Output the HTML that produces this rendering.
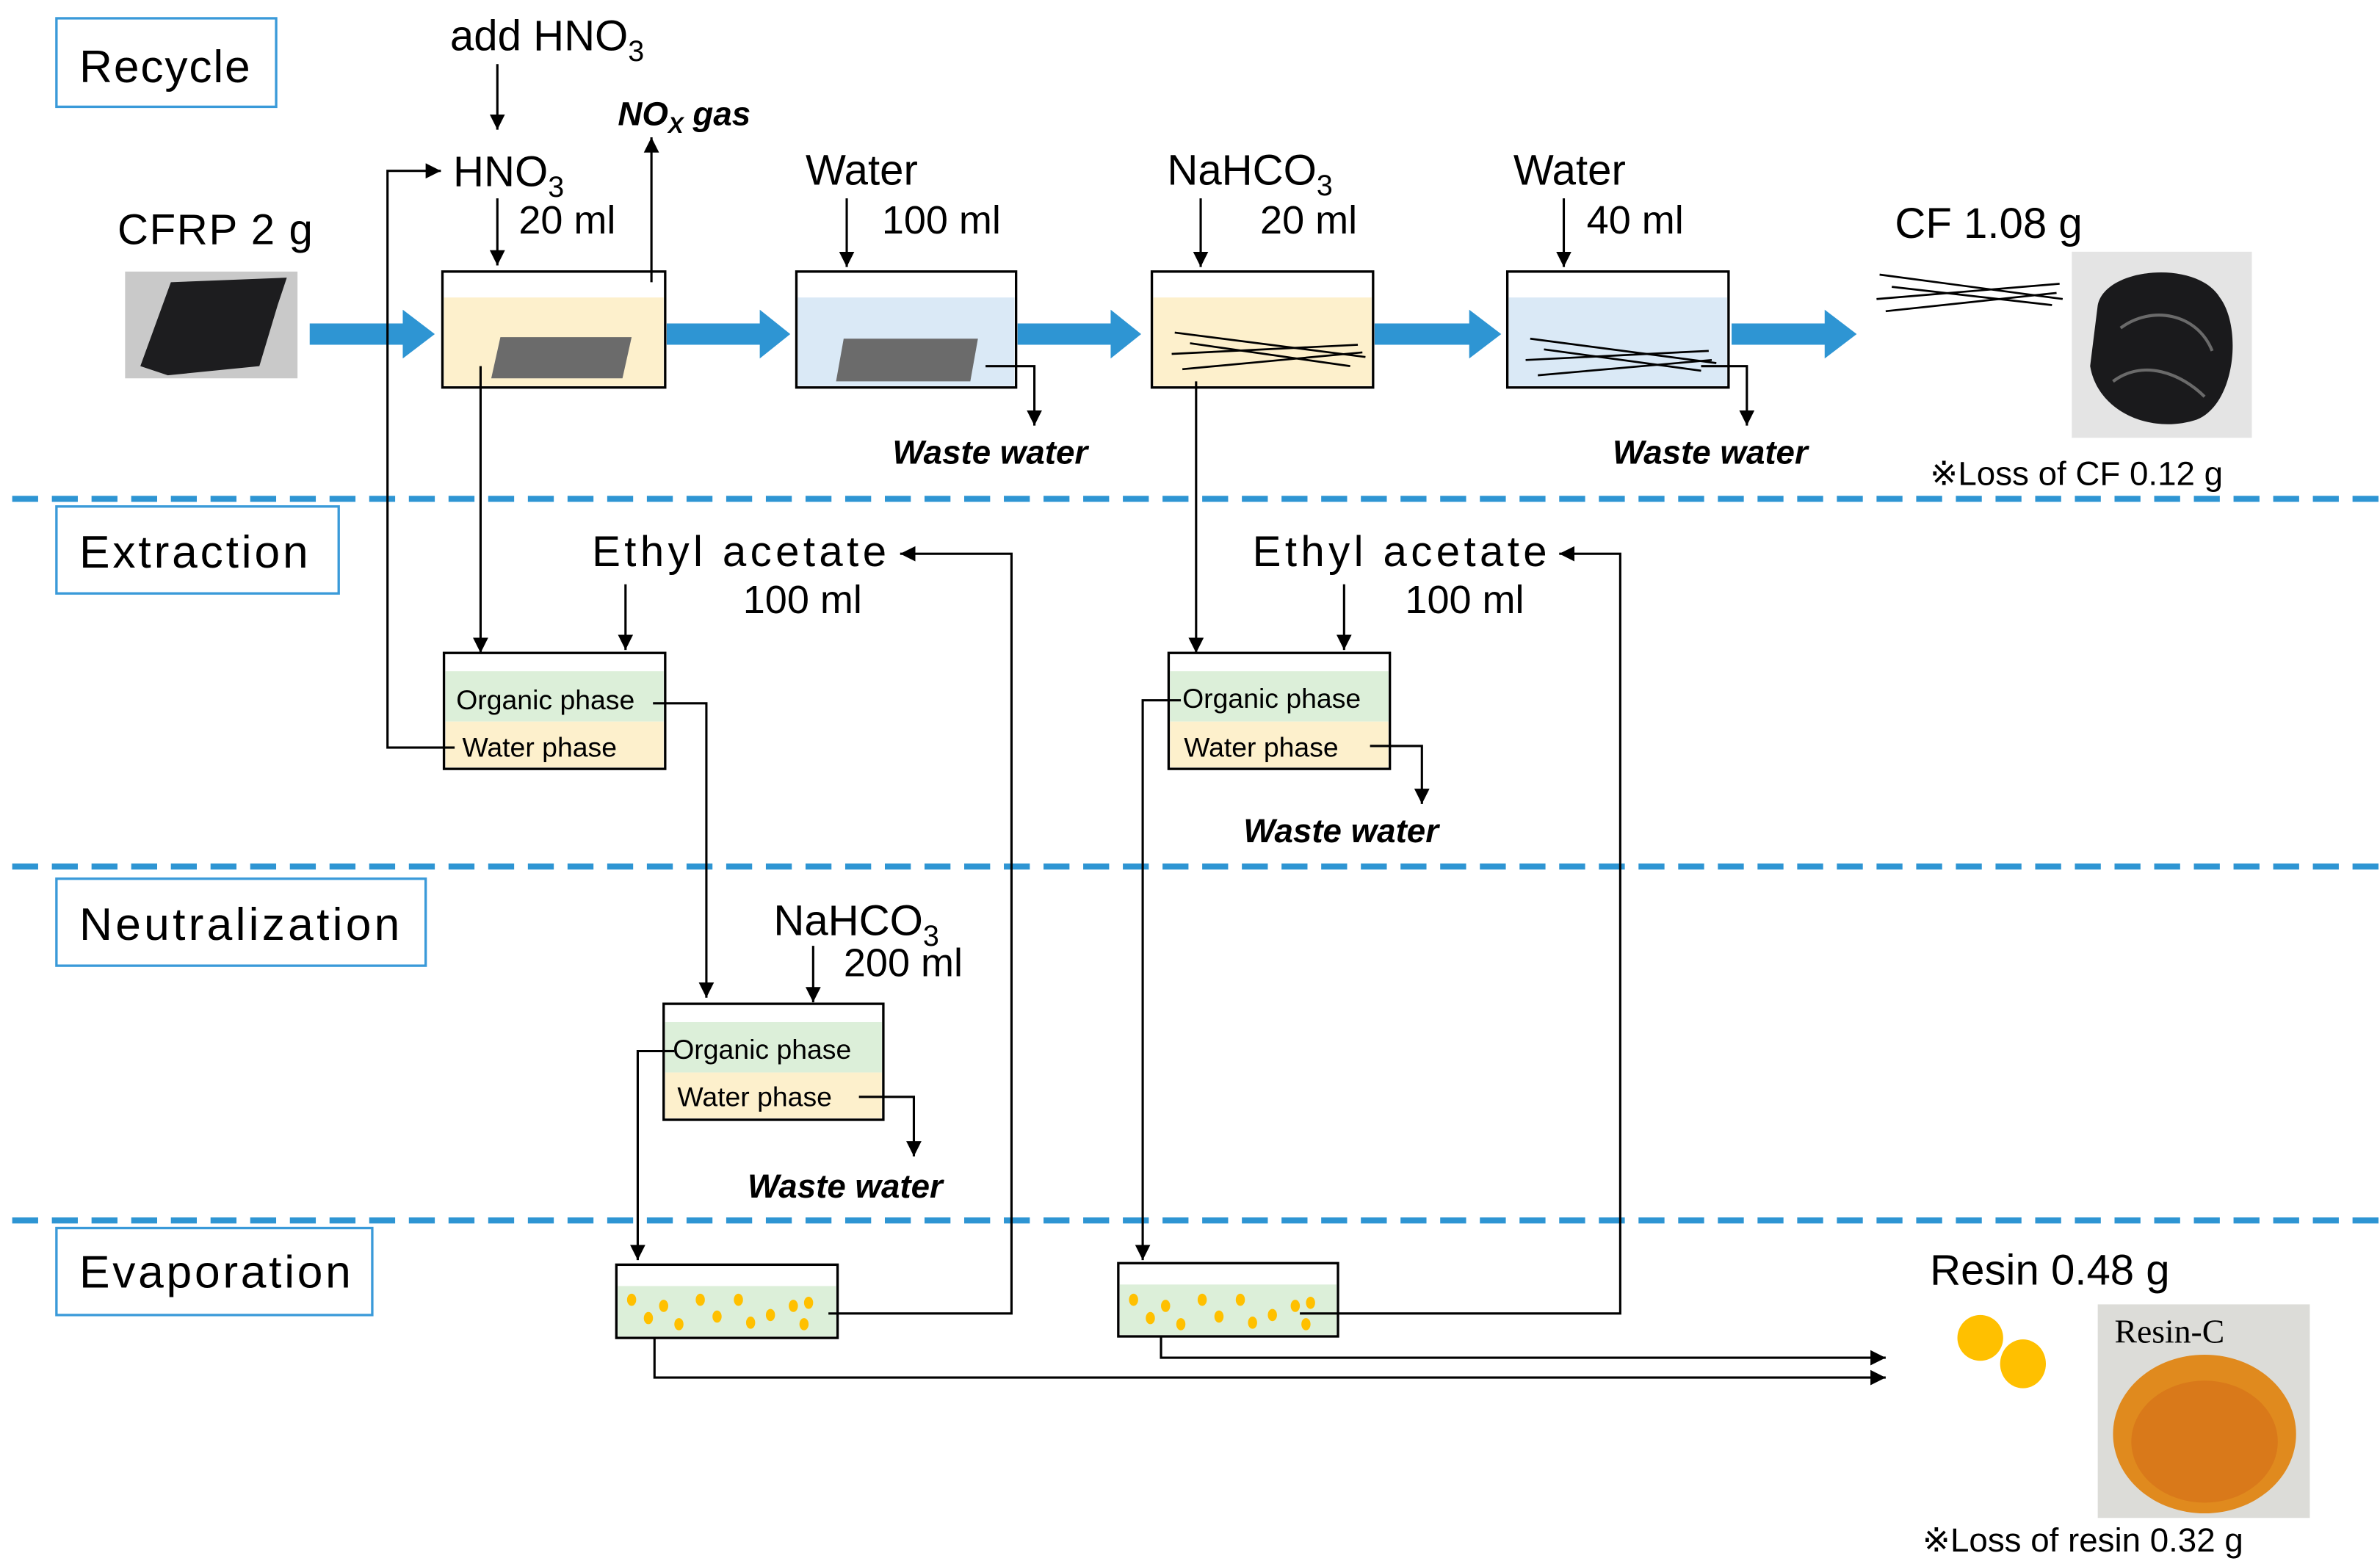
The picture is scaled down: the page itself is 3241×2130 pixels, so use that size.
<!DOCTYPE html>
<html><head><meta charset="utf-8"><style>html,body{margin:0;padding:0;background:#fff}svg{display:block}</style></head><body>
<svg xmlns="http://www.w3.org/2000/svg" width="3241" height="2130" viewBox="0 0 1560 1025.2" preserveAspectRatio="none" font-family="Liberation Sans, sans-serif">
<defs>
<marker id="a" markerUnits="userSpaceOnUse" markerWidth="12" markerHeight="12" refX="10" refY="5" orient="auto"><path d="M0,0 L10,5 L0,10 z" fill="#000"/></marker>
</defs>
<rect width="1560" height="1026" fill="#fff"/>
<g stroke="#2e95d3" stroke-width="4" stroke-dasharray="17,9">
<line x1="8" y1="327" x2="1560" y2="327"/><line x1="8" y1="568" x2="1560" y2="568"/><line x1="8" y1="800" x2="1560" y2="800"/>
</g>
<g fill="#fff" stroke="#3a9ad9" stroke-width="1.6">
<rect x="37" y="12" width="144" height="58"/><rect x="37" y="332" width="185" height="57"/><rect x="37" y="576" width="242" height="57"/><rect x="37" y="805" width="207" height="57"/>
</g>
<g font-size="30" fill="#000">
<text x="52" y="54" textLength="112">Recycle</text>
<text x="52" y="372" textLength="150">Extraction</text>
<text x="52" y="616" textLength="210">Neutralization</text>
<text x="52" y="844" textLength="178">Evaporation</text>
</g>
<g fill="#2e95d3">
<path d="M203,212 H264 V203 L285,219 L264,235 V226 H203 z"/>
<path d="M437,212 H498 V203 L518,219 L498,235 V226 H437 z"/>
<path d="M667,212 H728 V203 L748,219 L728,235 V226 H667 z"/>
<path d="M901,212 H963 V203 L984,219 L963,235 V226 H901 z"/>
<path d="M1135,212 H1196 V203 L1217,219 L1196,235 V226 H1135 z"/>
</g>
<text x="77" y="160" font-size="28" textLength="128">CFRP 2 g</text>
<rect x="82" y="178" width="113" height="70" fill="#c9c9c9"/>
<path d="M92,240 L112,185 L188,182 L182,200 L170,240 L110,246 z" fill="#1d1d1f"/>
<rect x="290" y="178" width="146" height="76" fill="#fff" stroke="#000" stroke-width="1.6"/>
<rect x="291" y="195" width="144" height="58" fill="#fdf0cc"/>
<path d="M328,221 L414,221 L408,248 L322,248 z" fill="#6b6b6b"/>
<rect x="522" y="178" width="144" height="76" fill="#fff" stroke="#000" stroke-width="1.6"/>
<rect x="523" y="195" width="142" height="58" fill="#dae9f6"/>
<path d="M553,222 L641,222 L636,250 L548,250 z" fill="#6b6b6b"/>
<rect x="755" y="178" width="145" height="76" fill="#fff" stroke="#000" stroke-width="1.6"/>
<rect x="756" y="195" width="143" height="58" fill="#fdf0cc"/>
<g stroke="#000" stroke-width="1.3"><line x1="770" y1="218" x2="895" y2="234"/><line x1="768" y1="232" x2="890" y2="226"/><line x1="775" y1="242" x2="893" y2="231"/><line x1="780" y1="225" x2="885" y2="240"/></g>
<rect x="988" y="178" width="145" height="76" fill="#fff" stroke="#000" stroke-width="1.6"/>
<rect x="989" y="195" width="143" height="58" fill="#dae9f6"/>
<g stroke="#000" stroke-width="1.3"><line x1="1003" y1="222" x2="1125" y2="238"/><line x1="1000" y1="236" x2="1120" y2="230"/><line x1="1008" y1="246" x2="1122" y2="236"/><line x1="1012" y1="229" x2="1115" y2="243"/></g>
<g font-size="28">
<text x="295" y="33">add HNO<tspan font-size="19" dy="7">3</tspan></text>
<text x="297" y="122">HNO<tspan font-size="19" dy="7">3</tspan></text>
<text x="340" y="153" font-size="26">20 ml</text>
<text x="528" y="121">Water</text>
<text x="578" y="153" font-size="26">100 ml</text>
<text x="765" y="121">NaHCO<tspan font-size="19" dy="7">3</tspan></text>
<text x="826" y="153" font-size="26">20 ml</text>
<text x="992" y="121">Water</text>
<text x="1040" y="153" font-size="26">40 ml</text>
<text x="1242" y="156">CF 1.08 g</text>
<text x="388" y="371" textLength="193">Ethyl acetate</text>
<text x="487" y="402" font-size="26">100 ml</text>
<text x="821" y="371" textLength="193">Ethyl acetate</text>
<text x="921" y="402" font-size="26">100 ml</text>
<text x="507" y="613">NaHCO<tspan font-size="19" dy="7">3</tspan></text>
<text x="553" y="640" font-size="26">200 ml</text>
</g>
<text x="405" y="82" font-size="22" font-weight="bold" font-style="italic">NO<tspan font-size="15" dy="5">X</tspan><tspan dy="-5"> gas</tspan></text>
<g font-size="22" font-weight="bold" font-style="italic">
<text x="585" y="304">Waste water</text>
<text x="1057" y="304">Waste water</text>
<text x="815" y="552">Waste water</text>
<text x="490" y="785">Waste water</text>
</g>
<g stroke="#000" stroke-width="1.5" fill="none">
<line x1="326" y1="42" x2="326" y2="85" marker-end="url(#a)"/>
<line x1="326" y1="130" x2="326" y2="174" marker-end="url(#a)"/>
<line x1="427" y1="185" x2="427" y2="90" marker-end="url(#a)"/>
<line x1="555" y1="130" x2="555" y2="175" marker-end="url(#a)"/>
<line x1="787" y1="130" x2="787" y2="175" marker-end="url(#a)"/>
<line x1="1025" y1="130" x2="1025" y2="175" marker-end="url(#a)"/>
<polyline points="290,490 254,490 254,112 289,112" marker-end="url(#a)"/>
<polyline points="646,240 678,240 678,279" marker-end="url(#a)"/>
<polyline points="1115,240 1145,240 1145,279" marker-end="url(#a)"/>
<line x1="315" y1="240" x2="315" y2="428" marker-end="url(#a)"/>
<line x1="410" y1="383" x2="410" y2="426" marker-end="url(#a)"/>
<polyline points="549,861 663,861 663,363 590,363" marker-end="url(#a)"/>
<polyline points="430,461 463,461 463,654" marker-end="url(#a)"/>
<line x1="784" y1="250" x2="784" y2="428" marker-end="url(#a)"/>
<line x1="881" y1="383" x2="881" y2="426" marker-end="url(#a)"/>
<polyline points="852,861 1062,861 1062,363 1022,363" marker-end="url(#a)"/>
<polyline points="902,489 932,489 932,527" marker-end="url(#a)"/>
<polyline points="768,459 749,459 749,826" marker-end="url(#a)"/>
<line x1="533" y1="620" x2="533" y2="657" marker-end="url(#a)"/>
<polyline points="567,719 599,719 599,758" marker-end="url(#a)"/>
<polyline points="437,689 418,689 418,826" marker-end="url(#a)"/>
<polyline points="429,868 429,903 1236,903" marker-end="url(#a)"/>
<polyline points="761,866 761,890 1236,890" marker-end="url(#a)"/>
</g>
<rect x="291" y="428" width="145" height="76" fill="#fff" stroke="#000" stroke-width="1.6"/>
<rect x="292" y="440" width="143" height="33" fill="#dcefd9"/><rect x="292" y="473" width="143" height="30" fill="#fdf0cc"/>
<rect x="766" y="428" width="145" height="76" fill="#fff" stroke="#000" stroke-width="1.6"/>
<rect x="767" y="440" width="143" height="33" fill="#dcefd9"/><rect x="767" y="473" width="143" height="30" fill="#fdf0cc"/>
<rect x="435" y="658" width="144" height="76" fill="#fff" stroke="#000" stroke-width="1.6"/>
<rect x="436" y="670" width="142" height="33" fill="#dcefd9"/><rect x="436" y="703" width="142" height="30" fill="#fdf0cc"/>
<g font-size="18">
<text x="299" y="465">Organic phase</text><text x="303" y="496">Water phase</text>
<text x="775" y="464">Organic phase</text><text x="776" y="496">Water phase</text>
<text x="441" y="694">Organic phase</text><text x="444" y="725">Water phase</text>
</g>
<g stroke="#000" stroke-width="1.5">
<line x1="290" y1="490" x2="298" y2="490"/><line x1="428" y1="461" x2="436" y2="461"/>
<line x1="766" y1="459" x2="774" y2="459"/><line x1="898" y1="489" x2="911" y2="489"/>
<line x1="435" y1="689" x2="442" y2="689"/><line x1="563" y1="719" x2="579" y2="719"/>
</g>
<text x="1265" y="318" font-size="22">※Loss of CF 0.12 g</text>
<g stroke="#000" stroke-width="1.3"><line x1="1232" y1="180" x2="1352" y2="196"/><line x1="1230" y1="196" x2="1350" y2="186"/><line x1="1236" y1="204" x2="1348" y2="192"/><line x1="1240" y1="188" x2="1345" y2="200"/></g>
<rect x="1358" y="165" width="118" height="122" fill="#e4e4e4"/>
<path d="M1375,200 C1380,175 1440,170 1455,195 C1470,215 1465,265 1440,275 C1410,285 1375,270 1370,240 z" fill="#1a1a1c"/>
<path d="M1390,215 C1410,200 1440,205 1450,230 M1385,250 C1405,235 1430,245 1445,260" stroke="#6a6a6a" stroke-width="2" fill="none"/>
<rect x="404" y="829" width="145" height="48" fill="#fff" stroke="#000" stroke-width="1.6"/>
<rect x="405" y="843" width="143" height="33" fill="#dcefd9"/>
<rect x="733" y="828" width="144" height="48" fill="#fff" stroke="#000" stroke-width="1.6"/>
<rect x="734" y="842" width="142" height="33" fill="#dcefd9"/>
<g fill="#ffc000">
<ellipse cx="414" cy="852" rx="3" ry="4"/><ellipse cx="425" cy="864" rx="3" ry="4"/><ellipse cx="435" cy="856" rx="3" ry="4"/><ellipse cx="445" cy="868" rx="3" ry="4"/><ellipse cx="459" cy="852" rx="3" ry="4"/><ellipse cx="470" cy="863" rx="3" ry="4"/><ellipse cx="484" cy="852" rx="3" ry="4"/><ellipse cx="492" cy="867" rx="3" ry="4"/><ellipse cx="505" cy="862" rx="3" ry="4"/><ellipse cx="520" cy="856" rx="3" ry="4"/><ellipse cx="530" cy="854" rx="3" ry="4"/><ellipse cx="527" cy="868" rx="3" ry="4"/>
<ellipse cx="743" cy="852" rx="3" ry="4"/><ellipse cx="754" cy="864" rx="3" ry="4"/><ellipse cx="764" cy="856" rx="3" ry="4"/><ellipse cx="774" cy="868" rx="3" ry="4"/><ellipse cx="788" cy="852" rx="3" ry="4"/><ellipse cx="799" cy="863" rx="3" ry="4"/><ellipse cx="813" cy="852" rx="3" ry="4"/><ellipse cx="821" cy="867" rx="3" ry="4"/><ellipse cx="834" cy="862" rx="3" ry="4"/><ellipse cx="849" cy="856" rx="3" ry="4"/><ellipse cx="859" cy="854" rx="3" ry="4"/><ellipse cx="856" cy="868" rx="3" ry="4"/>
</g>
<g stroke="#000" stroke-width="1.5"><line x1="543" y1="861" x2="549" y2="861"/><line x1="852" y1="861" x2="877" y2="861"/></g>
<text x="1265" y="842" font-size="28">Resin 0.48 g</text>
<ellipse cx="1298" cy="877" rx="15" ry="15" fill="#ffc000"/><ellipse cx="1326" cy="894" rx="15" ry="16" fill="#ffc000"/>
<rect x="1375" y="855" width="139" height="140" fill="#dcdcd8"/>
<ellipse cx="1445" cy="940" rx="60" ry="52" fill="#e08a1e"/>
<ellipse cx="1445" cy="945" rx="48" ry="40" fill="#d9791a"/>
<text x="1386" y="880" font-size="22" font-family="Liberation Serif, serif">Resin-C</text>
<text x="1260" y="1017" font-size="22">※Loss of resin 0.32 g</text>
</svg>
</body></html>
